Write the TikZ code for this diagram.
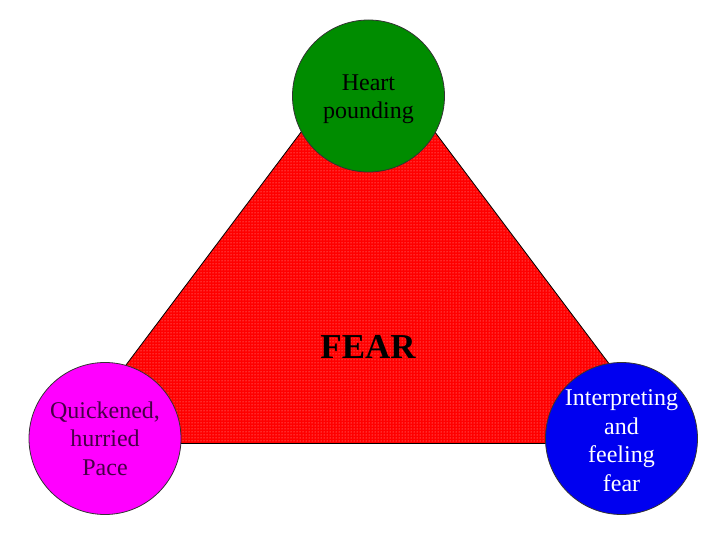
\documentclass[tikz,border=0pt]{standalone}
\usepackage{fontspec}
\setmainfont{Liberation Serif}
\usetikzlibrary{patterns}
\definecolor{heartgreen}{RGB}{0,140,0}
\definecolor{pacemag}{RGB}{255,0,255}
\definecolor{fearblue}{RGB}{0,0,240}
\definecolor{fearred}{RGB}{255,0,0}
\definecolor{darkpurple}{RGB}{70,0,70}
\tikzset{
  ball/.style={circle, draw=black!80, line width=0.8pt, minimum size=152pt, inner sep=0pt},
  balltext/.style={align=center, font=\fontsize{24}{28.5}\selectfont, inner sep=0pt},
}
\begin{document}
\begin{tikzpicture}[x=1pt,y=-1pt]
\useasboundingbox (0,0) rectangle (720,540);
% triangle
\coordinate (apex) at (368,43);
\coordinate (bl) at (67,443.5);
\coordinate (br) at (669,443.5);
\fill[fearred] (apex) -- (bl) -- (br) -- cycle;
\fill[pattern=dots, pattern color=white!70!red] (apex) -- (bl) -- (br) -- cycle;
\draw[black, line width=0.8pt] (apex) -- (bl) -- (br) -- cycle;
\node[anchor=base, font=\bfseries\fontsize{35}{40}\selectfont, inner sep=0pt] (fear) at (368,358) {FEAR};
% circles
\node[ball, fill=heartgreen] (heart) at (368.5,96) {};
\node[ball, fill=pacemag] (pace) at (105,438.5) {};
\node[ball, fill=fearblue] (interp) at (621.5,438.5) {};
\node[balltext, text=black] (hearttext) at ([yshift=-3]heart.center) {Heart\\pounding};
\node[balltext, text=darkpurple] (pacetext) at ([yshift=0]pace.center) {Quickened,\\hurried\\Pace};
\node[balltext, text=white] (interptext) at ([yshift=-2]interp.center) {Interpreting\\and\\feeling\\fear};
\end{tikzpicture}
\end{document}
